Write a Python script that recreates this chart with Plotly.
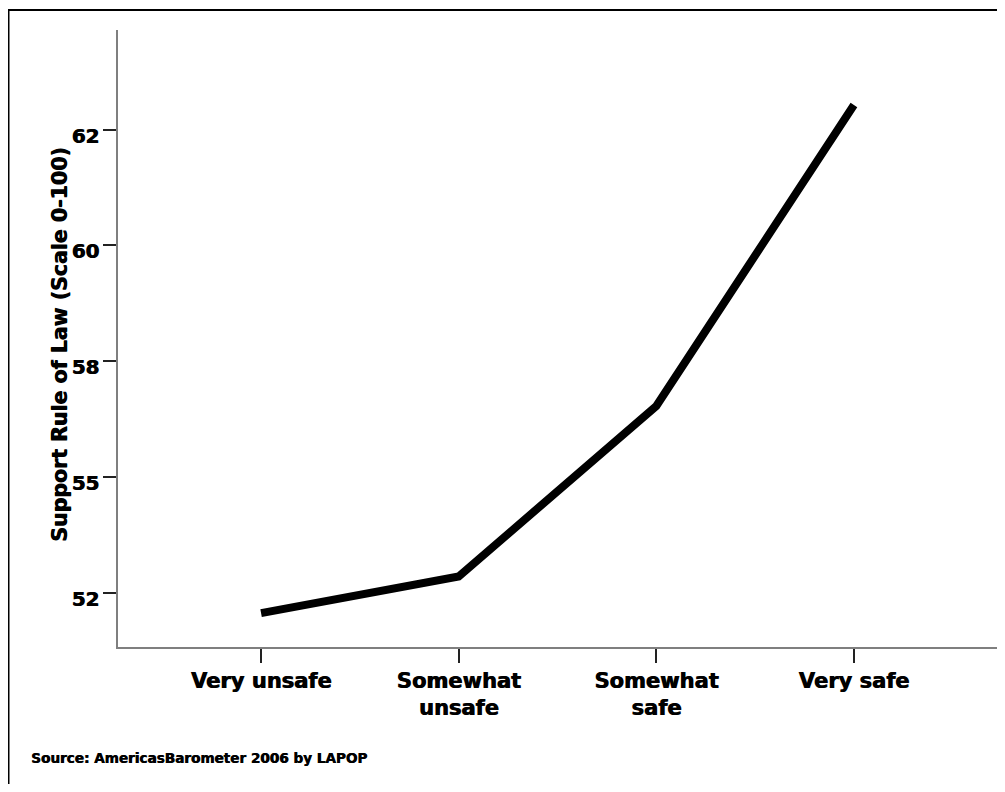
import plotly.graph_objects as go

categories = ["Very unsafe", "Somewhat unsafe", "Somewhat safe", "Very safe"]
category_labels = ["Very unsafe", "Somewhat<br>unsafe", "Somewhat<br>safe", "Very safe"]
support_values = [52.06, 52.85, 56.53, 63.03]
y_tick_values = [52.5, 55.0, 57.5, 60.0, 62.5]
y_tick_labels = ["52", "55", "58", "60", "62"]

# page has an 8px body margin; figure placed so that content lands at page coords
OFF = 8
W, H = 989, 776
L, T = 110, 22
pw, ph = 879, 617
R = W - L - pw
B = H - T - ph

def px_x(x):  # page x -> paper
    return (x - OFF - L) / pw

def px_y(y):  # page y -> paper
    return (T + ph - (y - OFF)) / ph

FONT = "DejaVu Sans"
SH = "0.8px 0px 0px black"

fig = go.Figure()
fig.add_trace(go.Scatter(
    x=categories, y=support_values, mode="lines",
    line=dict(color="black", width=8),
    hoverinfo="skip", showlegend=False,
))

annotations = [
    dict(
        text="Support Rule of Law (Scale 0-100)",
        xref="paper", yref="paper", x=px_x(60), y=px_y(345),
        xanchor="center", yanchor="middle", textangle=-90,
        showarrow=False,
        font=dict(family=FONT, size=20.5, weight="bold", color="black", shadow=SH),
    ),
    dict(
        text="Source: AmericasBarometer 2006 by LAPOP",
        xref="paper", yref="paper", x=px_x(29), y=px_y(758),
        xanchor="left", yanchor="middle",
        showarrow=False,
        font=dict(family=FONT, size=13.6, weight="bold", color="black", shadow="0.6px 0px 0px black"),
    ),
]

fig.update_layout(
    width=W, height=H,
    margin=dict(l=L, r=R, t=T, b=B, autoexpand=False),
    paper_bgcolor="white", plot_bgcolor="white",
    font=dict(family=FONT, color="black"),
    xaxis=dict(
        type="category", range=[-0.724, 3.724],
        tickmode="array", tickvals=categories, ticktext=category_labels,
        showline=True, linecolor="#7f7f7f", linewidth=1.5,
        ticks="outside", ticklen=14, tickwidth=1.5, tickcolor="#222",
        showgrid=False, zeroline=False,
        tickfont=dict(family=FONT, size=21, weight="bold", color="black", shadow=SH),
    ),
    yaxis=dict(
        range=[51.328, 64.648],
        tickmode="array", tickvals=y_tick_values, ticktext=y_tick_labels,
        showline=True, linecolor="#7f7f7f", linewidth=1.5,
        ticks="outside", ticklen=13, tickwidth=1.5, tickcolor="#222",
        showgrid=False, zeroline=False,
        ticklabelshift=6,
        tickfont=dict(family=FONT, size=20, weight="bold", color="black", shadow=SH),
    ),
    shapes=[dict(
        type="rect", xref="paper", yref="paper",
        x0=px_x(8.5), x1=px_x(1030), y0=px_y(840), y1=px_y(10),
        line=dict(color="black", width=2), fillcolor="rgba(0,0,0,0)",
        layer="above",
    )],
    annotations=annotations,
)

fig.write_html("out.html")
